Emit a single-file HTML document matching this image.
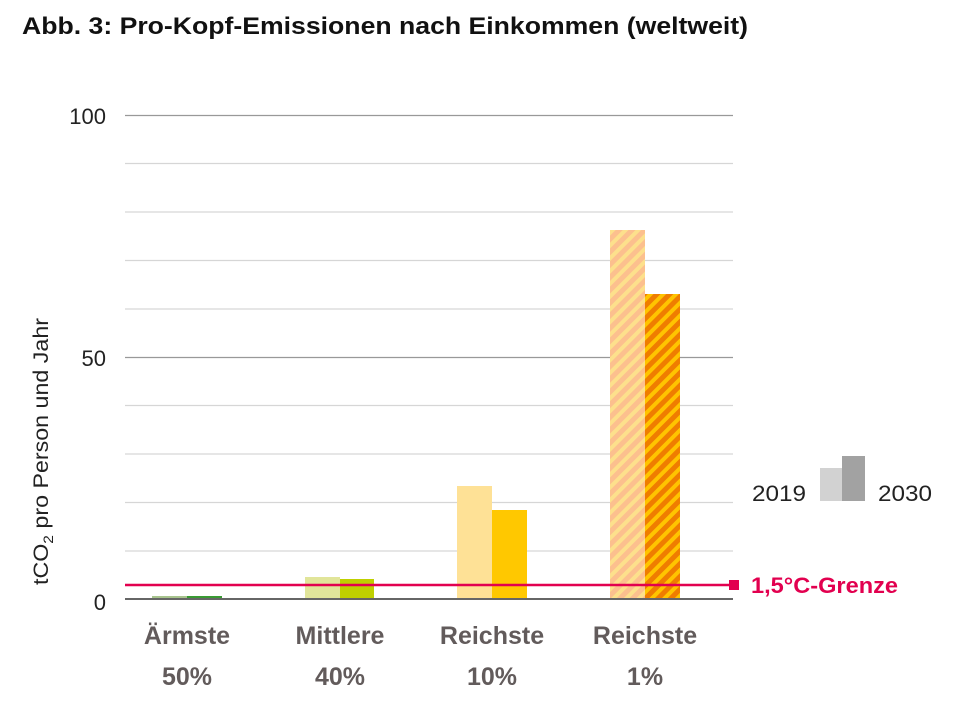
<!DOCTYPE html>
<html><head><meta charset="utf-8"><style>
body{margin:0;background:#fff;}
text{font-family:"Liberation Sans",sans-serif;}
</style></head><body>
<svg width="954" height="704" viewBox="0 0 954 704" xmlns="http://www.w3.org/2000/svg">
<defs>
<pattern id="h1" patternUnits="userSpaceOnUse" width="9" height="9" patternTransform="rotate(45)">
<rect width="9" height="9" fill="#fcc08e"/><rect width="4" height="9" fill="#fde08c"/>
</pattern>
<pattern id="h2" patternUnits="userSpaceOnUse" width="9" height="9" patternTransform="rotate(45)">
<rect width="9" height="9" fill="#ef7d00"/><rect width="4" height="9" fill="#ffc400"/>
</pattern>
</defs>
<text x="22" y="34" font-size="24" font-weight="bold" fill="#111" textLength="726" lengthAdjust="spacingAndGlyphs">Abb. 3: Pro-Kopf-Emissionen nach Einkommen (weltweit)</text>
<g stroke="#d6d6d6" stroke-width="1.2">
<line x1="125" x2="733" y1="163.5" y2="163.5"/><line x1="125" x2="733" y1="212" y2="212"/>
<line x1="125" x2="733" y1="260.5" y2="260.5"/><line x1="125" x2="733" y1="309" y2="309"/>
<line x1="125" x2="733" y1="405.5" y2="405.5"/><line x1="125" x2="733" y1="454" y2="454"/>
<line x1="125" x2="733" y1="502.5" y2="502.5"/><line x1="125" x2="733" y1="551" y2="551"/>
</g>
<line x1="125" x2="733" y1="115.5" y2="115.5" stroke="#999" stroke-width="1.3"/>
<line x1="125" x2="733" y1="357.5" y2="357.5" stroke="#999" stroke-width="1.3"/>
<text x="106" y="124" font-size="22" text-anchor="end" fill="#222">100</text>
<text x="106" y="366" font-size="22" text-anchor="end" fill="#222">50</text>
<text x="106" y="610" font-size="22" text-anchor="end" fill="#222">0</text>
<text transform="translate(48,585) rotate(-90)" font-size="21" fill="#222" textLength="267" lengthAdjust="spacingAndGlyphs">tCO<tspan font-size="14" dy="5">2</tspan><tspan dy="-5"> pro Person und Jahr</tspan></text>
<rect x="152" y="596" width="35" height="3" fill="#a8c48e"/>
<rect x="187" y="596" width="35" height="3" fill="#3a9a33"/>
<rect x="305" y="577" width="35" height="22" fill="#e1e59a"/>
<rect x="340" y="579" width="34" height="20" fill="#bfd000"/>
<rect x="457" y="486" width="35" height="113" fill="#fee196"/>
<rect x="492" y="510" width="35" height="89" fill="#ffc800"/>
<rect x="610" y="230" width="35" height="369" fill="url(#h1)"/>
<rect x="645" y="294" width="35" height="305" fill="url(#h2)"/>
<line x1="125" x2="733" y1="599" y2="599" stroke="#666" stroke-width="2"/>
<line x1="125" x2="733" y1="585" y2="585" stroke="#e2004f" stroke-width="2.5"/>
<rect x="729" y="580" width="10" height="10" fill="#e2004f"/>
<text x="751" y="593" font-size="22" font-weight="bold" fill="#e2004f" textLength="147" lengthAdjust="spacingAndGlyphs">1,5°C-Grenze</text>
<rect x="820" y="468" width="22" height="33" fill="#d2d2d2"/>
<rect x="842" y="456" width="23" height="45" fill="#a2a2a2"/>
<text x="752" y="501" font-size="22" fill="#222" textLength="54" lengthAdjust="spacingAndGlyphs">2019</text>
<text x="878" y="501" font-size="22" fill="#222" textLength="54" lengthAdjust="spacingAndGlyphs">2030</text>
<g font-size="25" font-weight="bold" fill="#625b5b" text-anchor="middle">
<text x="187" y="644">Ärmste</text><text x="187" y="685">50%</text>
<text x="340" y="644">Mittlere</text><text x="340" y="685">40%</text>
<text x="492" y="644">Reichste</text><text x="492" y="685">10%</text>
<text x="645" y="644">Reichste</text><text x="645" y="685">1%</text>
</g>
</svg>
</body></html>
